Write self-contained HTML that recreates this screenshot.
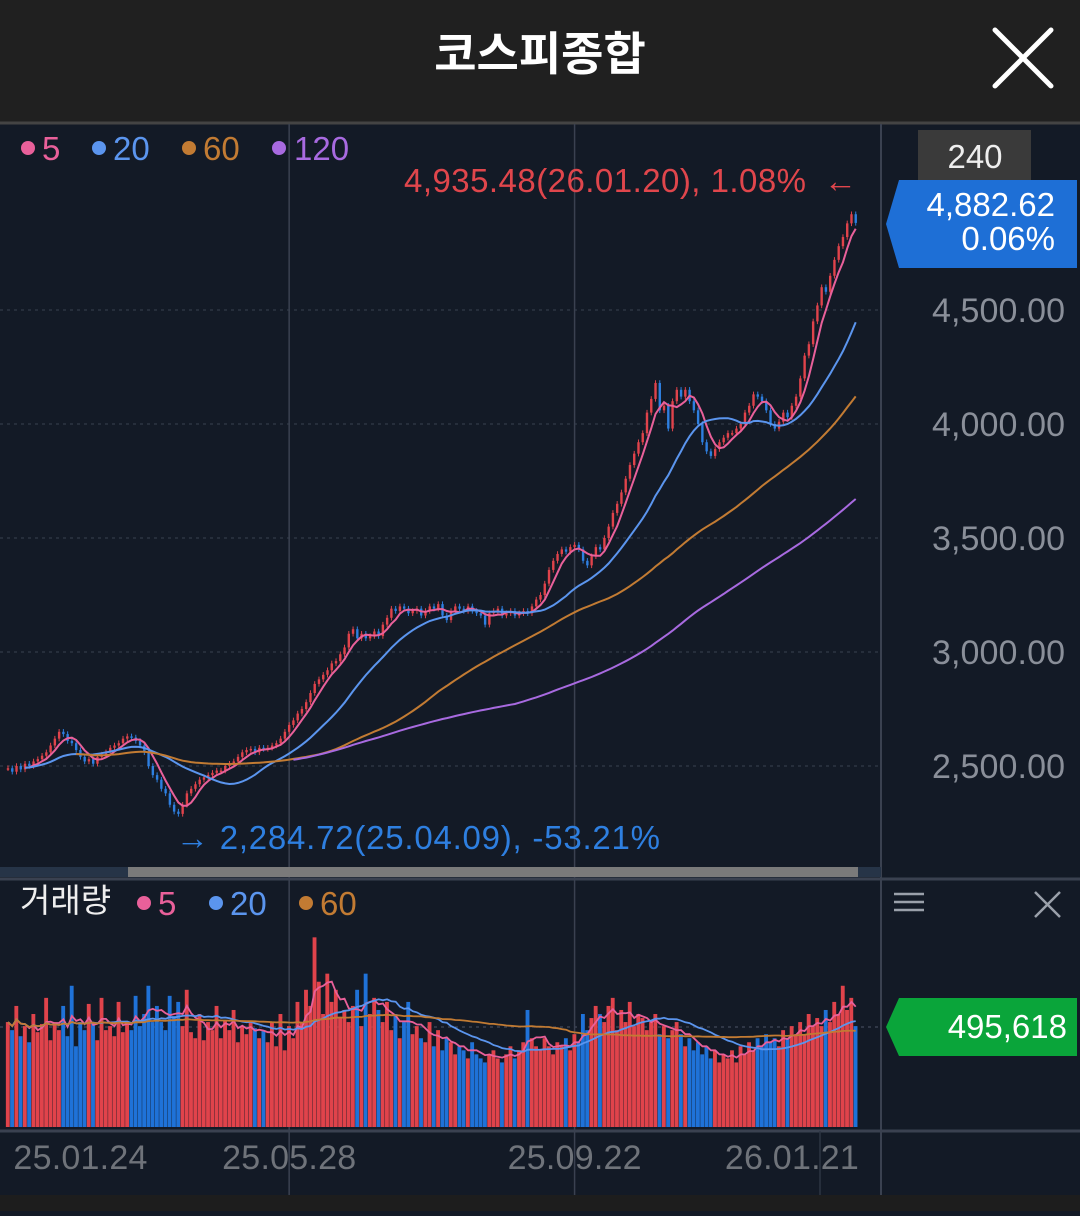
<!DOCTYPE html>
<html><head><meta charset="utf-8">
<style>
html,body{margin:0;padding:0;background:#131a26;}
body{width:1080px;height:1211px;overflow:hidden;font-family:"Liberation Sans","Noto Sans CJK KR",sans-serif;}
svg text{font-family:"Liberation Sans","Noto Sans CJK KR",sans-serif;}
</style></head>
<body>
<svg id="c" width="1080" height="1211" viewBox="0 0 1080 1211" xmlns="http://www.w3.org/2000/svg">
<rect x="0" y="0" width="1080" height="1211" fill="#131a26"/>
<rect x="0" y="0" width="1080" height="122" fill="#202020"/>
<text x="540" y="70" text-anchor="middle" font-size="46" font-weight="bold" fill="#ffffff">코스피종합</text>
<g stroke="#ffffff" stroke-width="5" stroke-linecap="round">
<line x1="995" y1="30" x2="1051" y2="86"/><line x1="1051" y1="30" x2="995" y2="86"/></g>
<line x1="0" y1="123" x2="1080" y2="123" stroke="#444" stroke-width="3"/>
<rect x="0" y="1195" width="1080" height="16" fill="#1d1d1d"/>
<g id="grid"></g>
<g id="vol"></g>
<g id="price"></g>
<line x1="881" y1="124" x2="881" y2="1195" stroke="#3a4150" stroke-width="2"/>
<line x1="0" y1="879" x2="1080" y2="879" stroke="#3a4150" stroke-width="3"/>
<line x1="0" y1="1131" x2="1080" y2="1131" stroke="#3a4150" stroke-width="3"/>
<line x1="820" y1="1131" x2="820" y2="1195" stroke="#2c3442" stroke-width="1.5"/>
<rect x="0" y="867" width="881" height="10" fill="#263447"/>
<rect x="128" y="867" width="730" height="10" fill="#7a7a7a"/>
<g font-size="33">
<circle cx="28" cy="148" r="7" fill="#e9609a"/><text x="42" y="160" fill="#e9609a">5</text>
<circle cx="99" cy="148" r="7" fill="#5b95ee"/><text x="113" y="160" fill="#5b95ee">20</text>
<circle cx="189" cy="148" r="7" fill="#c27b33"/><text x="203" y="160" fill="#c27b33">60</text>
<circle cx="279" cy="148" r="7" fill="#a86ae0"/><text x="294" y="160" fill="#a86ae0">120</text>
</g>
<text x="806" y="192" text-anchor="end" font-size="33" fill="#e0464c" textLength="402">4,935.48(26.01.20), 1.08%</text>
<text x="824" y="192" font-size="33" fill="#e0464c">←</text>
<text x="176" y="849" font-size="33" fill="#2e7fe0" textLength="484">→ 2,284.72(25.04.09), -53.21%</text>
<rect x="918" y="130" width="113" height="52" fill="#3a3a3a"/>
<text x="975" y="168" text-anchor="middle" font-size="33" fill="#eeeeee">240</text>
<polygon points="899,180 1077,180 1077,268 899,268 886,224" fill="#1e6fd6"/>
<text x="1055" y="216" text-anchor="end" font-size="33" fill="#ffffff">4,882.62</text>
<text x="1055" y="250" text-anchor="end" font-size="33" fill="#ffffff">0.06%</text>
<g id="yticks"></g>
<g font-size="33">
<text x="20" y="912" fill="#eeeeee">거래량</text>
<circle cx="144" cy="903" r="7" fill="#e9609a"/><text x="158" y="915" fill="#e9609a">5</text>
<circle cx="216" cy="903" r="7" fill="#5b95ee"/><text x="230" y="915" fill="#5b95ee">20</text>
<circle cx="306" cy="903" r="7" fill="#c27b33"/><text x="320" y="915" fill="#c27b33">60</text>
</g>
<g stroke="#9aa0aa" stroke-width="2.5">
<line x1="894" y1="894" x2="924" y2="894"/><line x1="894" y1="902" x2="924" y2="902"/><line x1="894" y1="910" x2="924" y2="910"/></g>
<g stroke="#9aa0aa" stroke-width="2.5">
<line x1="1035" y1="892" x2="1060" y2="917"/><line x1="1060" y1="892" x2="1035" y2="917"/></g>
<polygon points="899,998 1077,998 1077,1056 899,1056 886,1027" fill="#0aa53a"/>
<text x="1067" y="1038" text-anchor="end" font-size="33" fill="#ffffff">495,618</text>
<g id="xticks"></g>
</svg>
<script>
const closes = [
2490,2475,2500,2485,2510,2500,2520,2530,2545,2560,
2590,2620,2650,2640,2610,2600,2570,2540,2520,2530,
2510,2540,2550,2560,2580,2590,2600,2620,2630,2625,
2610,2590,2560,2500,2460,2440,2400,2380,2330,2300,
2290,2330,2380,2400,2420,2440,2450,2460,2470,2480,
2480,2500,2510,2520,2540,2560,2570,2575,2560,2580,
2575,2580,2590,2600,2620,2650,2680,2700,2730,2750,
2780,2820,2860,2880,2900,2920,2950,2960,2990,3020,
3080,3100,3060,3080,3060,3070,3090,3070,3120,3150,
3190,3180,3200,3190,3170,3180,3190,3160,3180,3200,
3190,3210,3160,3140,3180,3200,3190,3180,3200,3180,
3170,3160,3120,3170,3180,3190,3160,3170,3180,3160,
3170,3180,3170,3200,3230,3250,3300,3360,3400,3430,
3450,3440,3460,3470,3450,3400,3380,3420,3460,3450,
3500,3550,3610,3650,3700,3760,3820,3870,3920,3960,
4050,4110,4180,4060,4080,3980,4100,4150,4120,4150,
4100,4060,4000,3920,3880,3860,3890,3920,3940,3960,
3960,3980,4000,4050,4080,4130,4120,4100,4060,4000,
3980,4010,4050,4030,4080,4120,4200,4300,4350,4450,
4520,4600,4580,4650,4720,4780,4820,4880,4920,4882];
const volumes = [
520,480,600,450,500,420,560,470,510,640,
430,520,480,600,450,700,400,520,480,610,
520,430,640,480,500,450,620,470,520,480,
650,500,560,700,520,600,520,480,650,550,
620,500,680,470,440,560,430,520,480,600,
440,530,480,580,420,500,460,520,490,440,
480,420,520,400,560,380,500,440,620,520,
680,600,940,720,560,760,620,680,540,580,
520,600,680,500,760,560,640,580,520,620,
480,560,440,520,620,460,500,440,420,520,
400,480,380,440,420,360,400,380,340,420,
360,340,320,360,380,340,320,360,400,340,
380,420,580,440,400,380,440,400,360,420,
400,440,380,460,420,560,480,540,600,560,
520,600,640,480,580,520,620,500,560,540,
480,520,560,460,500,440,480,520,460,400,
440,380,420,360,400,340,380,320,360,340,
380,320,400,360,420,380,440,400,460,420,
440,400,480,440,500,460,520,460,560,500,
540,500,580,520,620,560,700,580,640,500];
const yTicks = [4500,4000,3500,3000,2500];
const yTickLabels = ["4,500.00","4,000.00","3,500.00","3,000.00","2,500.00"];
const dateLabels = ["25.01.24","25.05.28","25.09.22","26.01.21"];
const dateIdx = [17,66,133,184];
const gridIdx = [66,133];
const priceMAs = [5,20,60,120];
const priceMAStart = [4,4,16,67];
const volMAs = [5,20,60];

const NS="http://www.w3.org/2000/svg";
const N=closes.length, X0=8, XW=852;
const step=XW/N;
const xs=i=>X0+i*step;
const ys=p=>766-(p-2500)*0.228;
const VB=1127;
const vy=v=>VB-v*100/495.618;
function mk(tag,attrs,parent){const e=document.createElementNS(NS,tag);for(const k in attrs)e.setAttribute(k,attrs[k]);parent.appendChild(e);return e;}
const grid=document.getElementById('grid');
yTicks.forEach((t,k)=>{
  const l=mk('line',{x1:0,x2:881,y1:ys(t),y2:ys(t),stroke:'#2c3442','stroke-width':1.5,'stroke-dasharray':'3,4'},grid);
  
  
  const tx=mk('text',{x:1065,y:ys(t)+12,'text-anchor':'end','font-size':34,fill:'#8a8f99',textLength:133},document.getElementById('yticks'));
  tx.textContent=yTickLabels[k];
  
  
});
gridIdx.forEach(i=>{
  const l=mk('line',{x1:xs(i),x2:xs(i),y1:124,y2:1195,stroke:'#3a4150','stroke-width':1.5},grid);
  
  
});
mk('line',{x1:0,x2:881,y1:vy(495.618),y2:vy(495.618),stroke:'#3a4150','stroke-width':1.5,'stroke-dasharray':'3,4'},grid);
dateLabels.forEach((d,k)=>{
  const t=mk('text',{x:xs(dateIdx[k]),y:1169,'text-anchor':'middle','font-size':34,fill:'#6f737a',textLength:134},document.getElementById('xticks'));
  t.textContent=d;
  
  
});
function ma(arr,n,start){const out=[];for(let i=0;i<arr.length;i++){if(i<start){out.push(null);continue;}const s=Math.max(0,i-n+1);let sum=0;for(let j=s;j<=i;j++)sum+=arr[j];out.push(sum/(i-s+1));}return out;}
function line(vals,f,color,parent,name,w){let d='';vals.forEach((v,i)=>{if(v==null)return;d+=(d?'L':'M')+xs(i).toFixed(1)+','+f(v).toFixed(1);});const p=mk('path',{d:d,fill:'none',stroke:color,'stroke-width':w||2},parent);
  
  }
const colors=['#e9609a','#5b95ee','#c27b33','#a86ae0'];
const vol=document.getElementById('vol');
volumes.forEach((v,i)=>{
  const up=i==0||closes[i]>=closes[i-1];
  const r=mk('rect',{x:xs(i)-step/2,y:vy(v),width:step-0.4,height:VB-vy(v),fill:up?'#e0434b':'#1f72d8'},vol);
  
  
});
volMAs.forEach((n,k)=>line(ma(volumes,n,0),vy,colors[k],vol,'volume-ma'+n,1.8));
const pr=document.getElementById('price');
closes.forEach((c,i)=>{
  const o=i==0?c:closes[i-1];
  const up=c>=o;
  const col=up?'#e0434b':'#2e7fe0';
  const hi=Math.max(o,c)+12, lo=Math.min(o,c)-12;
  const w=mk('line',{x1:xs(i),x2:xs(i),y1:ys(hi),y2:ys(lo),stroke:col,'stroke-width':1},pr);
  
  
  const top=ys(Math.max(o,c)), h=Math.max(1.5,Math.abs(ys(o)-ys(c)));
  const b=mk('rect',{x:xs(i)-1.2,y:top,width:2.4,height:h,fill:col},pr);
  
  
});
priceMAs.forEach((n,k)=>line(ma(closes,n,priceMAStart[k]),ys,colors[k],pr,'price-ma'+n,2));
</script>
</body></html>
